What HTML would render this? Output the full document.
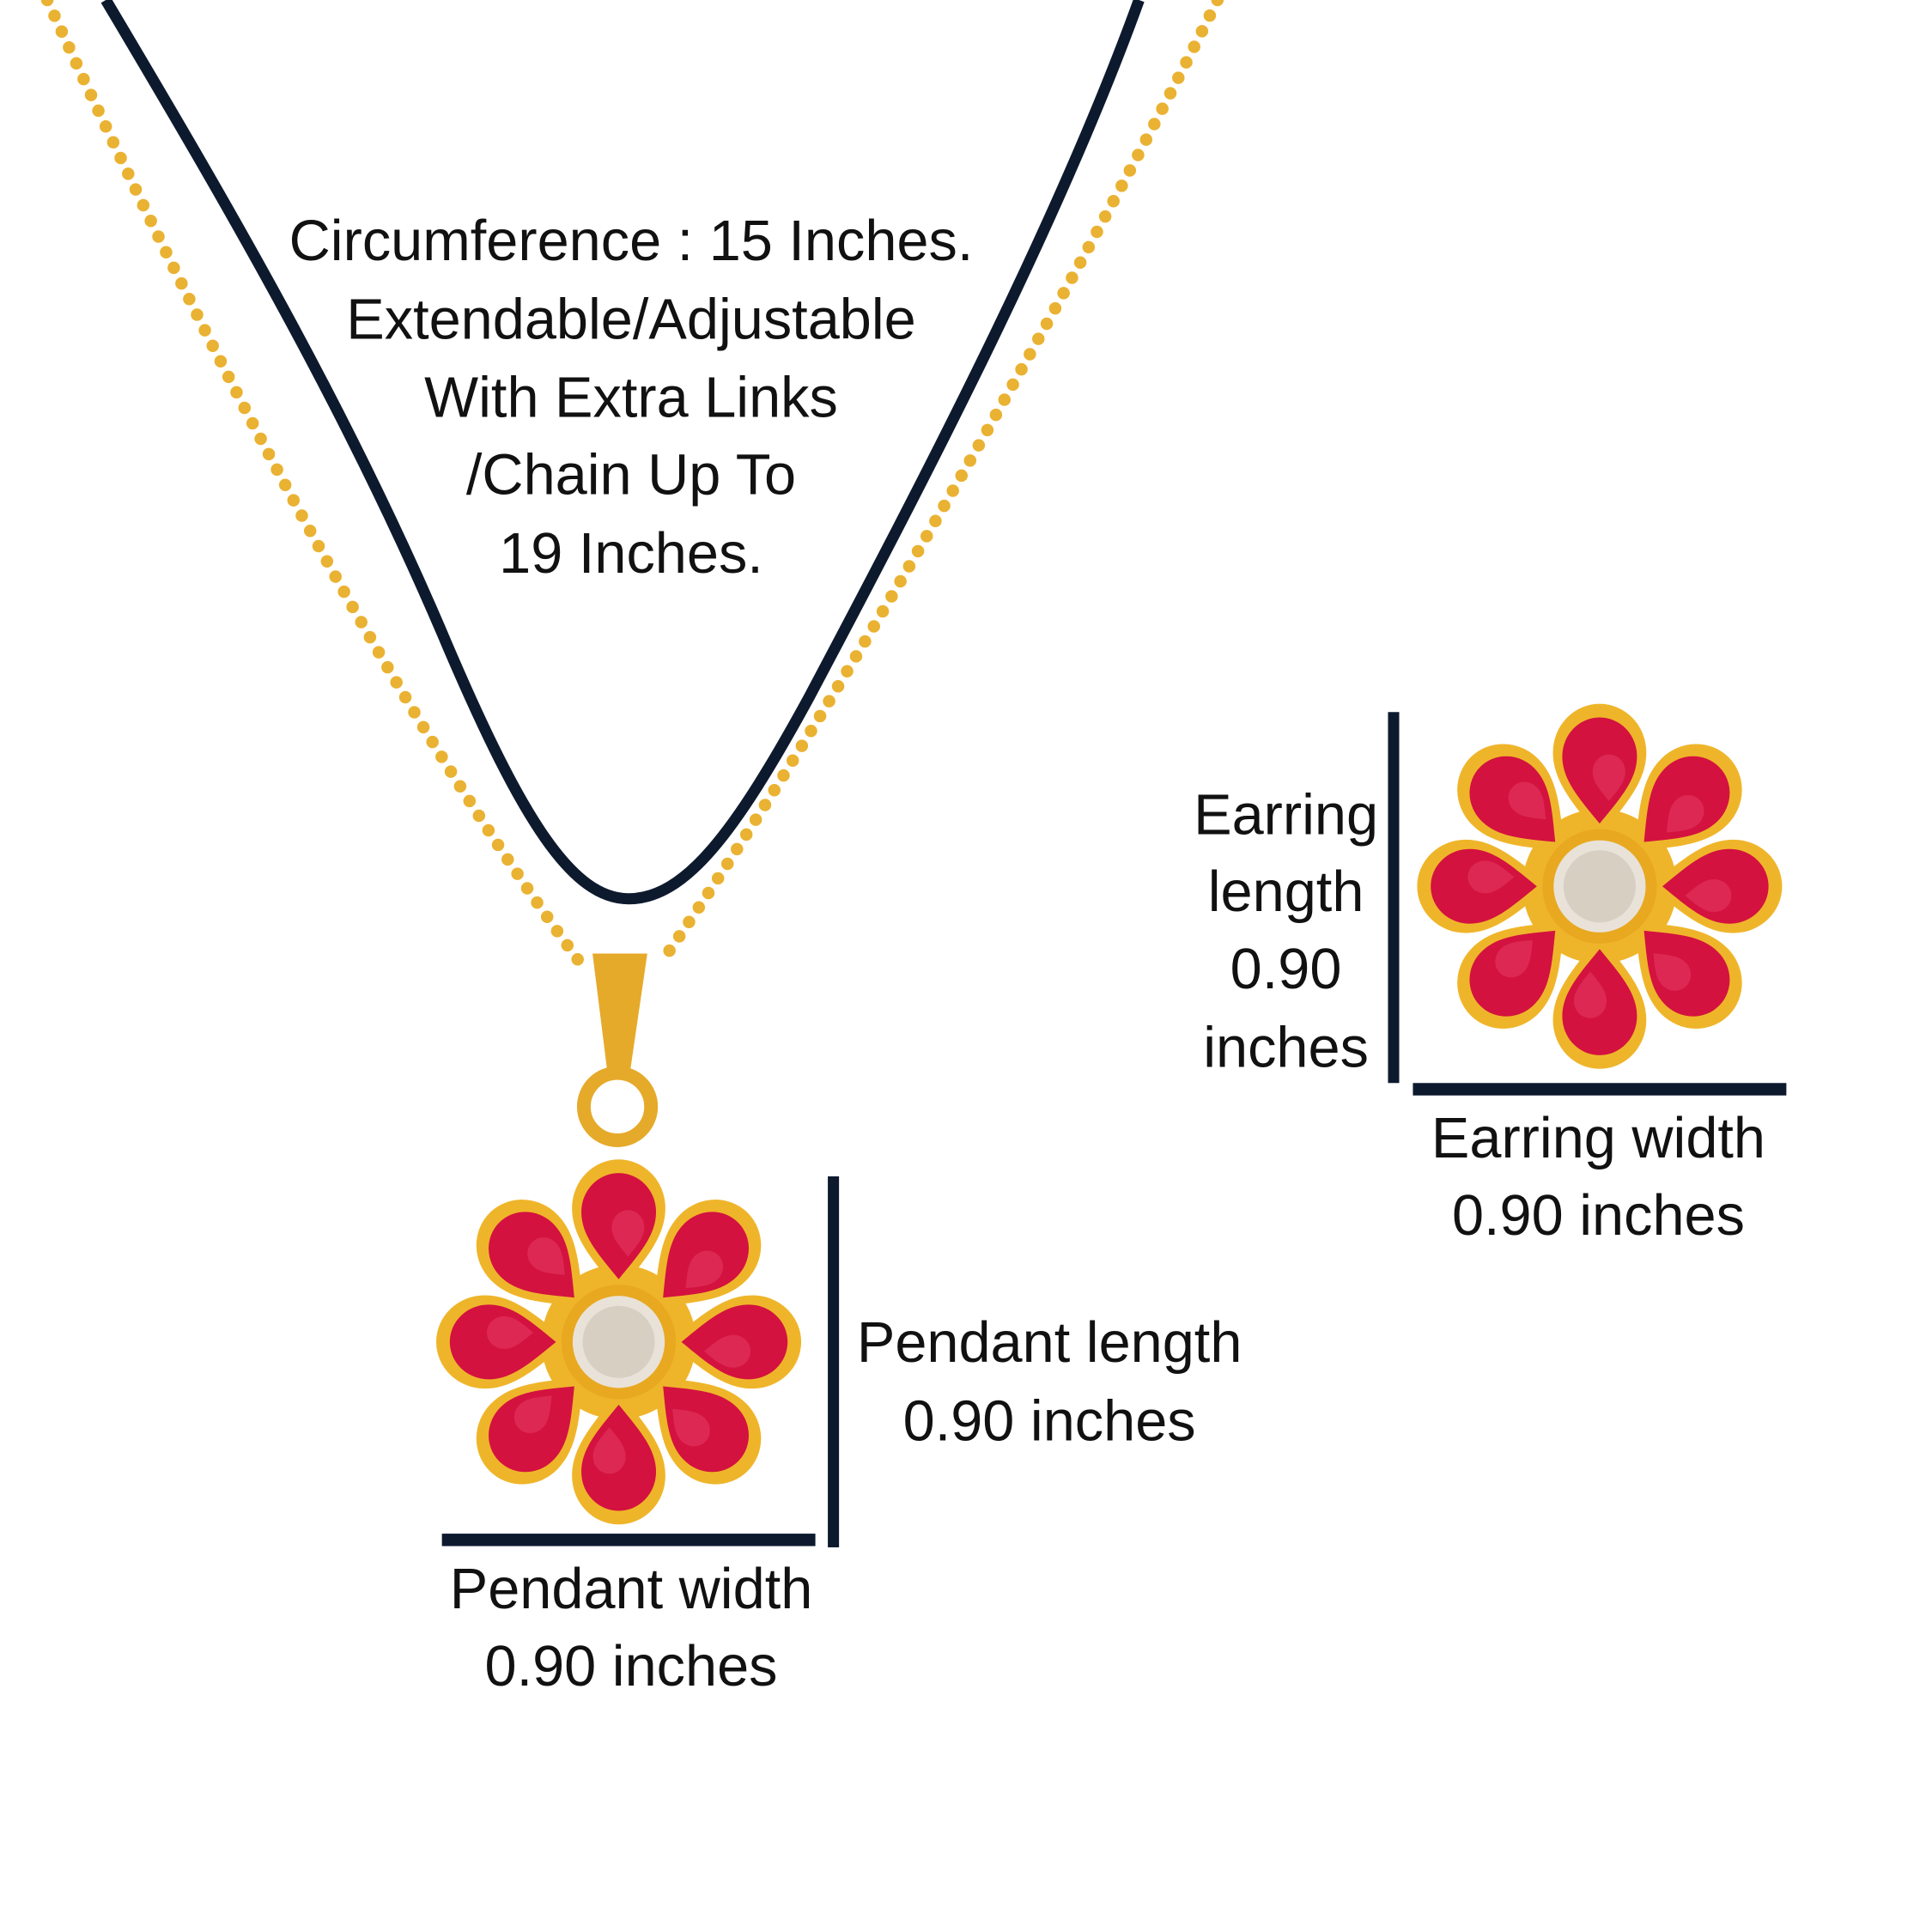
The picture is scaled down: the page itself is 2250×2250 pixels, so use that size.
<!DOCTYPE html>
<html><head><meta charset="utf-8"><style>
html,body{margin:0;padding:0;background:#fff}
svg{display:block}
text{font-family:"Liberation Sans",sans-serif;fill:#111;font-size:46px;text-anchor:middle}
</style></head><body>
<svg width="2250" height="2250" viewBox="0 0 1552 1552" xmlns="http://www.w3.org/2000/svg">
<defs>
<path id="pt" d="M0,-40 C17,-20 30,-6 30,12 A30,30 0 0 1 -30,12 C-30,-6 -17,-20 0,-40Z"/>
<g id="petal">
<g transform="scale(1.25,1.3)">
<use href="#pt" fill="#efb52a" transform="rotate(180)"/>
<use href="#pt" fill="#d3123f" transform="rotate(180) scale(0.8)"/>
<use href="#pt" fill="#f0547a" opacity="0.35" transform="rotate(180) translate(-6,-4) scale(0.35)"/>
</g>
</g>
<g id="flower">
<circle r="62" fill="#efb52a"/>
<g transform="rotate(0) translate(0,-92)"><use href="#petal"/></g>
<g transform="rotate(45) translate(0,-92)"><use href="#petal"/></g>
<g transform="rotate(90) translate(0,-92)"><use href="#petal"/></g>
<g transform="rotate(135) translate(0,-92)"><use href="#petal"/></g>
<g transform="rotate(180) translate(0,-92)"><use href="#petal"/></g>
<g transform="rotate(225) translate(0,-92)"><use href="#petal"/></g>
<g transform="rotate(270) translate(0,-92)"><use href="#petal"/></g>
<g transform="rotate(315) translate(0,-92)"><use href="#petal"/></g>
<circle r="46" fill="#e8a820"/>
<circle r="37" fill="#e9e2d8"/>
<circle r="29" fill="#d8cfc3"/>
</g>
</defs>
<path d="M38,0 C120,180 280,520 465,772" fill="none" stroke="#eab232" stroke-width="10" stroke-linecap="round" stroke-dasharray="0 14"/>
<path d="M978,0 C900,160 680,560 532,772" fill="none" stroke="#eab232" stroke-width="10" stroke-linecap="round" stroke-dasharray="0 14"/>
<path d="M85,0 C180,160 280,330 360,520 C420,660 460,722 505,722 C550,722 590,670 650,560 C740,390 850,180 915,0" fill="none" stroke="#0d1a2e" stroke-width="9"/>
<text x="507" y="209">Circumference : 15 Inches.</text>
<text x="507" y="272">Extendable/Adjustable</text>
<text x="507" y="335">With Extra Links</text>
<text x="507" y="397">/Chain Up To</text>
<text x="507" y="460">19 Inches.</text>
<path d="M476,766 L520,766 L506,862 L488,862 Z" fill="#e6aa2a"/>
<circle cx="496" cy="889" r="27" fill="none" stroke="#e6aa2a" stroke-width="11"/>
<g transform="translate(497,1078)"><use href="#flower"/></g>
<g transform="translate(1285,712)"><use href="#flower"/></g>
<rect x="665" y="945" width="9" height="298" fill="#0d1a2e"/>
<rect x="355" y="1232" width="300" height="10" fill="#0d1a2e"/>
<rect x="1115" y="572" width="9" height="298" fill="#0d1a2e"/>
<rect x="1135" y="870" width="300" height="10" fill="#0d1a2e"/>
<text x="843" y="1094">Pendant length</text>
<text x="843" y="1157">0.90 inches</text>
<text x="507" y="1292">Pendant width</text>
<text x="507" y="1354">0.90 inches</text>
<text x="1033" y="670">Earring</text>
<text x="1033" y="732">length</text>
<text x="1033" y="794">0.90</text>
<text x="1033" y="857">inches</text>
<text x="1284" y="930">Earring width</text>
<text x="1284" y="992">0.90 inches</text>
</svg>
</body></html>
